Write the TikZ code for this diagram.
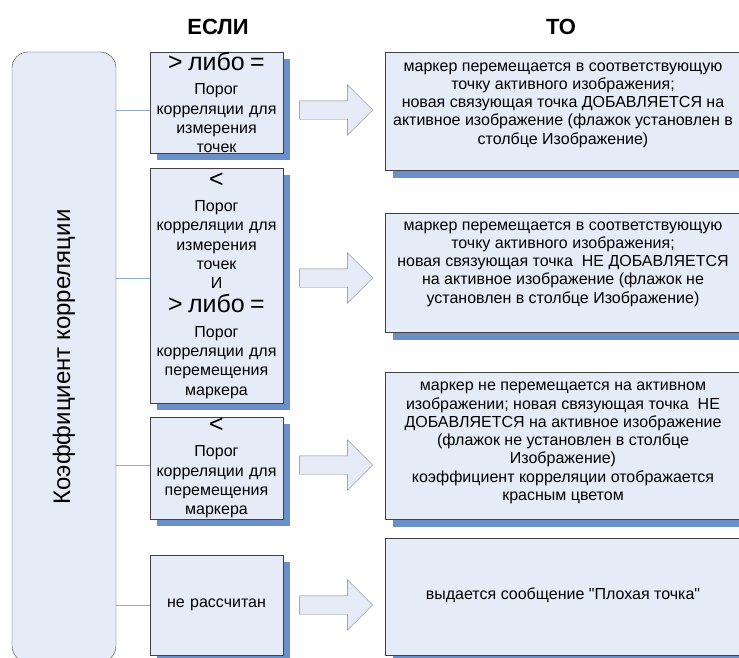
\documentclass[tikz,border=0pt]{standalone}
\usepackage{fontspec}
\setmainfont{Liberation Sans}
\usepackage{graphicx}
\usepackage{xcolor}
\definecolor{cFill}{HTML}{E6ECF7}
\definecolor{cShadow}{HTML}{6A8FC9}
\definecolor{cEdge}{HTML}{404040}
\definecolor{cLink}{HTML}{8EAADB}
\definecolor{cArrow}{HTML}{7F7F7F}
\usetikzlibrary{positioning,shapes.arrows,shadows}
\newcommand{\cmpsign}[1]{{\fontsize{25}{25}\selectfont #1}}
\tikzset{
  node-coef/.style={draw=cEdge,fill=cFill,rounded corners=16pt,
    minimum width=104pt,minimum height=610pt,inner sep=0pt,
    font=\fontsize{24}{28}\selectfont},
  node-if/.style={draw=cEdge,fill=cFill,inner sep=0pt,text width=133pt,
    align=center,font=\fontsize{16}{19.3}\selectfont,
    drop shadow={shadow xshift=7pt,shadow yshift=-7pt,fill=cShadow,opacity=1}},
  node-then/.style={draw=cEdge,fill=cFill,minimum width=356pt,inner sep=0pt,
    drop shadow={shadow xshift=8pt,shadow yshift=-8pt,fill=cShadow,opacity=1}},
  text-then/.style={align=center,inner sep=0pt,font=\fontsize{16}{18.3}\selectfont},
  arrow-block/.style={single arrow,draw=cArrow,fill=cFill,minimum height=73pt,
    inner sep=9pt,single arrow head extend=16pt},
  link/.style={draw=cLink,thin},
  title/.style={font=\bfseries\fontsize{22}{26}\selectfont},
}

\begin{document}
\begin{tikzpicture}[x=1pt,y=-1pt]
  \useasboundingbox (0,0) rectangle (739,657);
  \node[title] (tif) at (218,27) {ЕСЛИ};
  \node[title] (tthen) at (561,27) {ТО};
  \node[node-coef] (coef) at (64,357) {\rotatebox{90}{Коэффициент корреляции}};

  % условия
  \node[node-if,minimum height=101pt] (if1) at (216.5,102.5)
    {\cmpsign{> либо =}\\[5pt]Порог\\корреляции для\\измерения\\точек};
  \node[node-if,minimum height=235pt] (if2) at (216.5,285.5)
    {\cmpsign{<}\\[5pt]Порог\\корреляции для\\измерения\\точек\\И\\[5pt]\cmpsign{> либо =}\\[5pt]Порог\\корреляции для\\перемещения\\маркера};
  \node[node-if,minimum height=102pt] (if3) at (216.5,468)
    {\cmpsign{<}\\[5pt]Порог\\корреляции для\\перемещения\\маркера};
  \node[node-if,minimum height=100pt] (if4) at (216.5,605) {не рассчитан};

  % результаты
  \node[node-then,minimum height=118pt] (then1) at (563,111) {};
  \node[text-then] (txt1) at ([yshift=6pt]then1.center)
    {маркер перемещается в соответствующую\\точку активного изображения;\\новая связующая точка ДОБАВЛЯЕТСЯ на\\активное изображение (флажок установлен в\\столбце Изображение)};
  \node[node-then,minimum height=119pt] (then2) at (563,272.5) {};
  \node[text-then] (txt2) at ([yshift=8.5pt]then2.center)
    {маркер перемещается в соответствующую\\точку активного изображения;\\новая связующая точка~ НЕ ДОБАВЛЯЕТСЯ\\на активное изображение (флажок не\\установлен в столбце Изображение)};
  \node[node-then,minimum height=147pt] (then3) at (563,445.5) {};
  \node[text-then] (txt3) at ([yshift=2.5pt]then3.center)
    {маркер не перемещается на активном\\изображении; новая связующая точка~ НЕ\\ДОБАВЛЯЕТСЯ на активное изображение\\(флажок не установлен в столбце\\Изображение)\\коэффициент корреляции отображается\\красным цветом};
  \node[node-then,minimum height=117pt] (then4) at (563,596.5) {};
  \node[text-then] (txt4) at ([yshift=1pt]then4.center)
    {выдается сообщение \textquotedbl Плохая точка\textquotedbl};

  \node[arrow-block] (arr1) at (331.5,110) {};
  \node[arrow-block] (arr2) at (331.5,278) {};
  \node[arrow-block] (arr3) at (331.5,465) {};
  \node[arrow-block] (arr4) at (331.5,605) {};

  \draw[link] (coef.east |- arr1.west) -- (if1.west |- arr1.west);
  \draw[link] (coef.east |- arr2.west) -- (if2.west |- arr2.west);
  \draw[link] (coef.east |- arr3.west) -- (if3.west |- arr3.west);
  \draw[link] (coef.east |- if4.west) -- (if4.west);
\end{tikzpicture}
\end{document}
